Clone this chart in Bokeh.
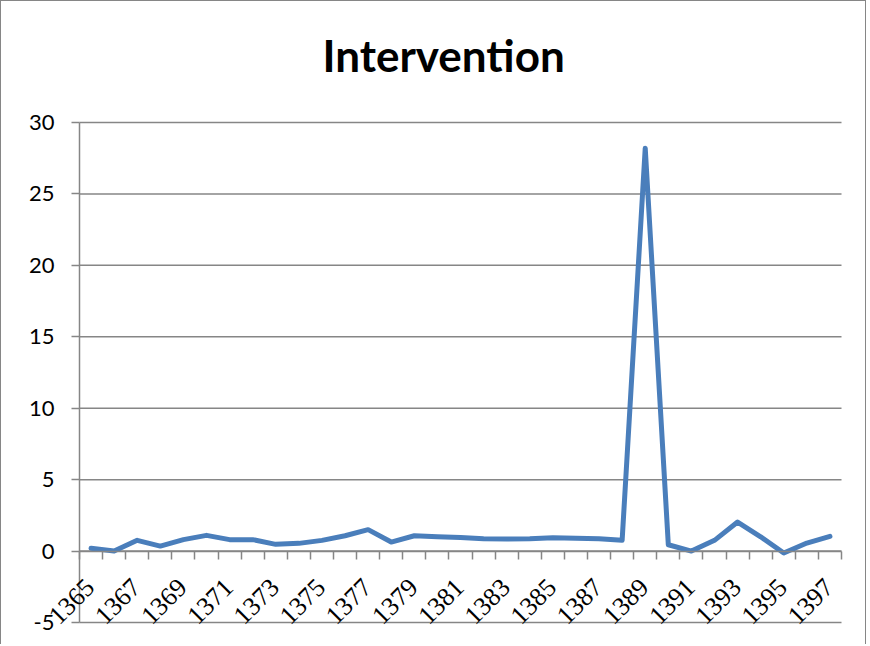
import math
from bokeh.plotting import figure
from bokeh.models import FixedTicker, Range1d, Title, LabelSet, ColumnDataSource
from bokeh.embed import file_html
from bokeh.resources import INLINE

years = list(range(1365, 1398))
values = [0.2, 0.0, 0.75, 0.35, 0.8, 1.1, 0.8, 0.8, 0.47, 0.54, 0.75, 1.07, 1.5,
          0.63, 1.07, 1.0, 0.95, 0.86, 0.85, 0.87, 0.93, 0.9, 0.87, 0.75, 28.2,
          0.44, 0.0, 0.75, 2.03, 1.0, -0.14, 0.56, 1.03]
label_years = years[::2]
y_ticks = [-5, 0, 5, 10, 15, 20, 25, 30]
y_min, y_max = -5, 30

GRAY = "#868686"
FONT = "Lato"

# layout (screen px): plot area 78..840 horizontally, 121..621 vertically
W, H, TOP = 866, 644, 95
x_lo, x_hi = years[0] - 0.5, years[-1] + 0.5
px_x = (840 - 78) / (x_hi - x_lo)
px_y = (621 - 121) / (y_max - y_min)

p = figure(width=W, height=H, output_backend="svg", toolbar_location=None,
           x_range=Range1d(x_lo - 78 / px_x, x_hi + (W - 840) / px_x),
           y_range=Range1d(y_min - (H - 621) / px_y, y_max + (121 - TOP) / px_y),
           min_border_left=0, min_border_right=0, min_border_top=TOP,
           min_border_bottom=0)
p.title = Title(text="Intervention", align="left", text_font=FONT,
                text_font_size="44px", text_font_style="bold", text_color="black",
                offset=321, standoff=32)
p.outline_line_color = None
p.background_fill_color = "white"
p.border_fill_color = "white"

# horizontal grid lines limited to the plot area
p.xgrid.grid_line_color = None
p.ygrid.grid_line_color = None
p.segment(x0=[x_lo] * len(y_ticks), x1=[x_hi] * len(y_ticks), y0=y_ticks, y1=y_ticks,
          line_color=GRAY, line_width=1.5)

p.line(years, values, line_color="#4A7EBB", line_width=5, line_join="round",
       line_cap="round")

# x axis drawn at y = 0
xa = p.xaxis[0]
xa.fixed_location = 0
xa.bounds = (x_lo, x_hi)
xa.ticker = FixedTicker(ticks=label_years,
                        minor_ticks=[y - 0.5 for y in years] + [x_hi])
xa.axis_line_color = GRAY
xa.axis_line_width = 1.5
xa.major_tick_line_color = None
xa.minor_tick_line_color = GRAY
xa.minor_tick_line_width = 1.5
xa.minor_tick_out = 8
xa.minor_tick_in = 0
xa.major_label_text_font_size = "0px"
xa.major_label_text_color = None

lab_src = ColumnDataSource(dict(x=label_years, y=[0] * len(label_years),
                                t=[str(v) for v in label_years]))
labels = LabelSet(x="x", y="y", text="t", source=lab_src, angle=math.pi / 4,
                  text_align="right", text_baseline="top", x_offset=-7, y_offset=-26,
                  text_font=FONT, text_font_size="26px", text_color="black",
                  level="overlay")
p.add_layout(labels)

ya = p.yaxis[0]
ya.fixed_location = x_lo
ya.bounds = (y_min, y_max)
ya.ticker = FixedTicker(ticks=y_ticks)
ya.axis_line_color = GRAY
ya.axis_line_width = 1.5
ya.major_tick_line_color = GRAY
ya.major_tick_line_width = 1.5
ya.major_tick_out = 8
ya.major_tick_in = 0
ya.minor_tick_line_color = None
ya.major_label_text_font = FONT
ya.major_label_text_font_size = "22px"
ya.major_label_text_color = "black"
ya.major_label_standoff = 17
ya.major_label_overrides = {-5: "-5"}

p.styles = {"border-left": "1.5px solid #868686", "border-top": "1.5px solid #868686",
            "border-right": "1.5px solid #868686"}

open("out.html", "w").write(file_html(p, INLINE))
